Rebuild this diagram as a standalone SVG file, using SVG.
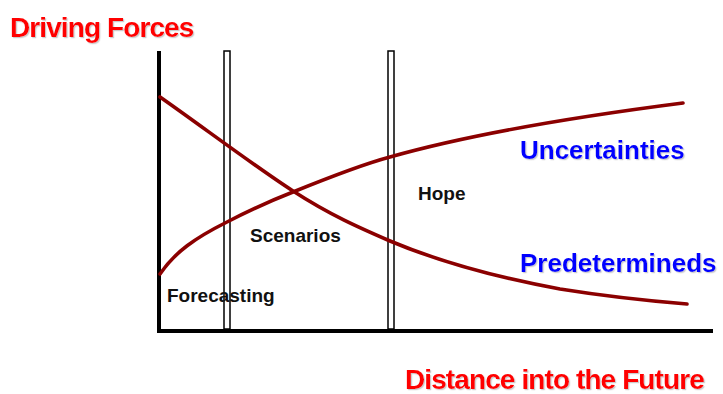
<svg xmlns="http://www.w3.org/2000/svg" width="723" height="394" viewBox="0 0 723 394">
<defs>
<filter id="sh" x="-5%" y="-10%" width="115%" height="125%">
<feDropShadow dx="1.2" dy="1.2" stdDeviation="0.5" flood-color="#aaa" flood-opacity="0.6"/>
</filter>
<style>
.t{font-family:"Liberation Sans",Arial,sans-serif;font-weight:bold}
.red{fill:#ff0000;font-size:28px;letter-spacing:-0.9px;filter:url(#sh)}
.blue{fill:#0000ff;font-size:26px;filter:url(#sh)}
.blk{fill:#111;font-size:19px}
.curve{fill:none;stroke:#8b0000;stroke-width:3.6;stroke-linecap:round}
.bar{fill:#fff;stroke:#000;stroke-width:1.5}
.axis{stroke:#000;stroke-width:4;fill:none}
</style>
</defs>
<rect width="723" height="394" fill="#fff"/>
<g id="title-driving"><text class="t red" x="10" y="37">Driving Forces</text></g>
<g id="title-distance"><text class="t red" x="405" y="389">Distance into the Future</text></g>
<g id="axes">
<path class="axis" d="M159,51 V331 H713"/>
</g>
<g id="bar-forecast"><rect class="bar" x="224" y="51" width="6" height="278"/></g>
<g id="bar-scenarios"><rect class="bar" x="388" y="51" width="6" height="278"/></g>
<g id="connectors">
<path id="curve-predetermineds" class="curve" d="M160,97 C200,125 260,170 293,191 C330,215 360,228 390,241 C440,262 500,278 560,289 C610,297 650,301 687,304"/>
<path id="curve-uncertainties" class="curve" d="M160,274 C175,252 195,238 227,222 C250,210 270,201 293,192 C330,177 360,165 390,157 C450,140 550,120 683,103"/>
</g>
<g id="label-uncertainties"><text class="t blue" x="520" y="159">Uncertainties</text></g>
<g id="label-predetermineds"><text class="t blue" x="520" y="272">Predetermineds</text></g>
<g id="label-hope"><text class="t blk" x="418" y="200">Hope</text></g>
<g id="label-scenarios"><text class="t blk" x="250" y="242">Scenarios</text></g>
<g id="label-forecasting"><text class="t blk" x="167" y="302">Forecasting</text></g>
</svg>
